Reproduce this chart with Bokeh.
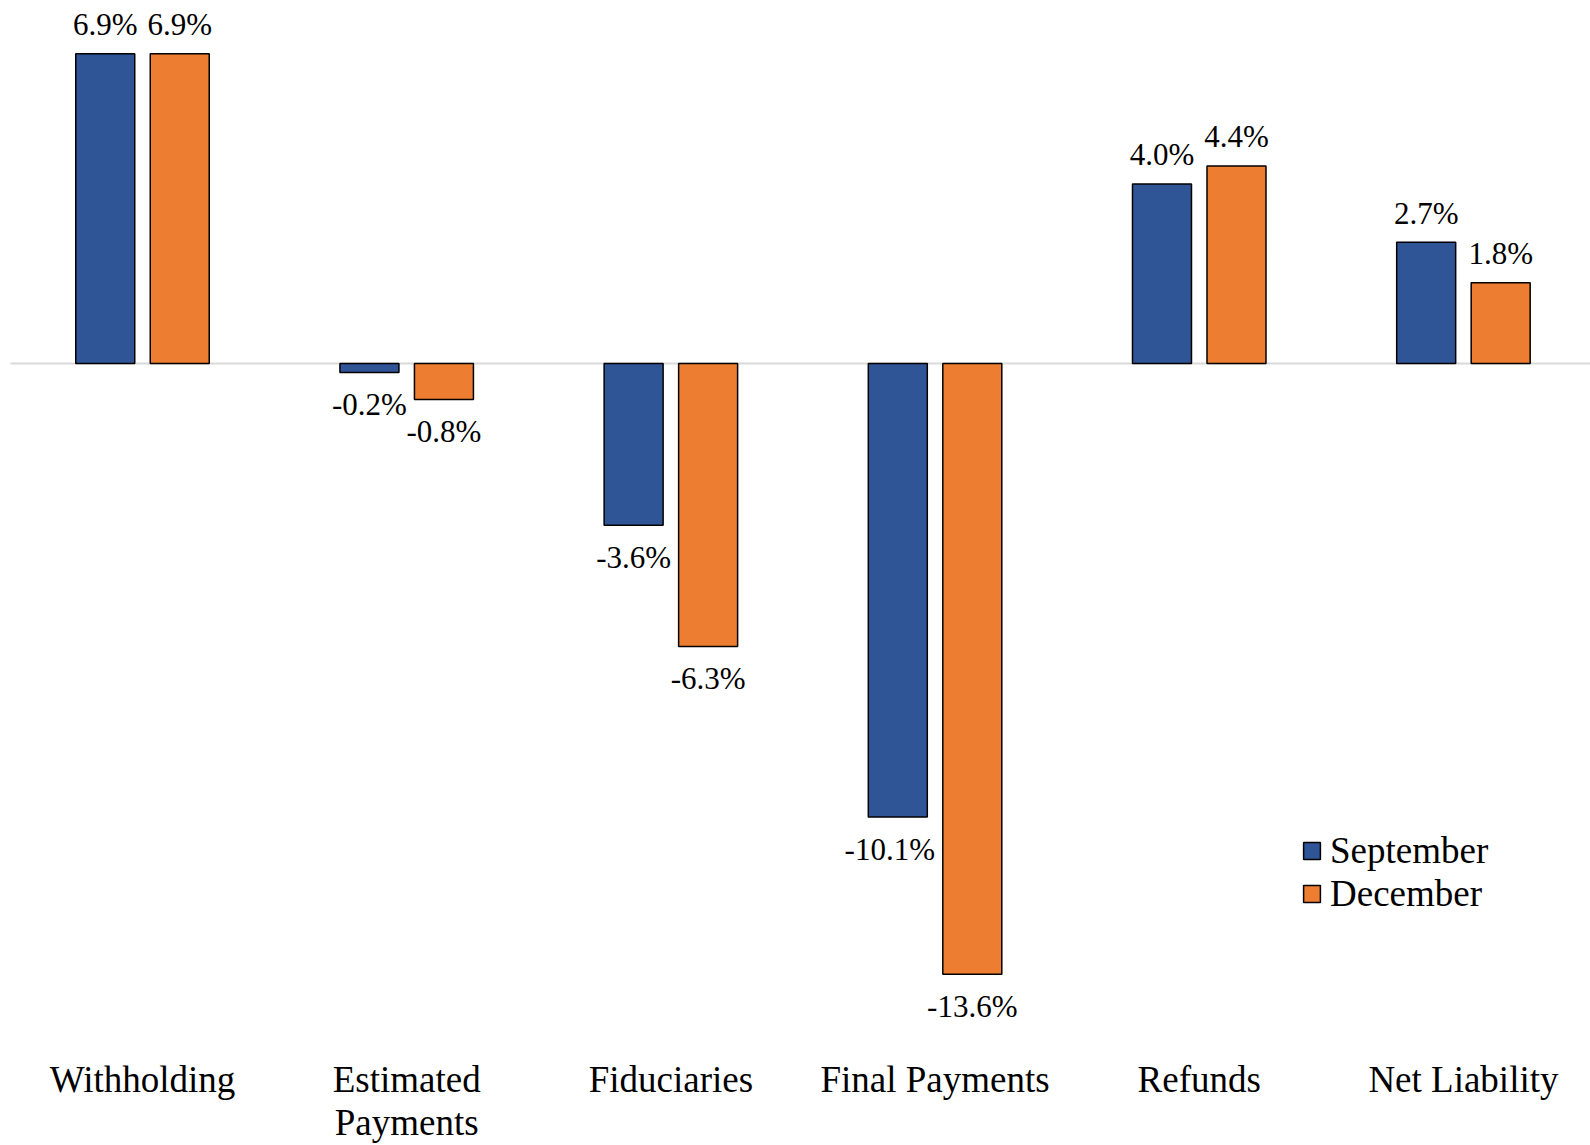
from bokeh.plotting import figure
from bokeh.models import Range1d, Legend, LegendItem, ColumnDataSource
from bokeh.core.properties import value
from bokeh.embed import file_html
from bokeh.resources import INLINE

# Year-over-year change by component, two forecast vintages
categories = ["Withholding", "Estimated\nPayments", "Fiduciaries",
              "Final Payments", "Refunds", "Net Liability"]
september = [6.9, -0.2, -3.6, -10.1, 4.0, 2.7]
december = [6.9, -0.8, -6.3, -13.6, 4.4, 1.8]
series_names = ["September", "December"]

BLUE = "#2F5597"
ORANGE = "#ED7D31"
FONT = "Liberation Serif"

W, H = 1590, 1145
p = figure(width=W, height=H, output_backend="svg", toolbar_location=None,
           x_range=Range1d(-0.5375, 5.481), y_range=Range1d(-17.416, 8.085),
           x_axis_type=None, y_axis_type=None, min_border=0)
p.grid.visible = False
p.outline_line_color = None
p.background_fill_color = "white"

n = len(categories)
idx = list(range(n))
dx = 0.141
bw = 0.2233

# zero baseline
p.segment(x0=[-0.5], y0=[0], x1=[5.481], y1=[0], line_color="#D9D9D9", line_width=2)

src_s = ColumnDataSource(dict(x=[i - dx for i in idx], top=september))
src_d = ColumnDataSource(dict(x=[i + dx for i in idx], top=december))
r1 = p.vbar(x="x", top="top", bottom=0, width=bw, source=src_s,
            fill_color=BLUE, line_color="black", line_width=1.5)
r2 = p.vbar(x="x", top="top", bottom=0, width=bw, source=src_d,
            fill_color=ORANGE, line_color="black", line_width=1.5)

# value labels outside the bar ends
lx, ly, lt, lyo, lxo = [], [], [], [], []
for src in (src_s, src_d):
    for x, v in zip(src.data["x"], src.data["top"]):
        lx.append(x)
        ly.append(v)
        lt.append(f"{v:.1f}%")
        lyo.append(-29 if v >= 0 else 32)
        lxo.append(0)
# keep the widest negative label clear of its neighbour bar
lxo[3] = -8
p.text(x=lx, y=ly, text=lt, x_offset=lxo, y_offset=lyo,
       text_align="center", text_baseline="alphabetic",
       text_font=value(FONT), text_font_size="31px", text_color="black")

# category labels
p.text(x=idx, y=[-15.50] * n, text=categories, text_align="center",
       text_baseline="top", text_line_height=1.04,
       text_font=value(FONT), text_font_size="37px", text_color="black")

legend = Legend(items=[LegendItem(label=series_names[0], renderers=[r1]),
                       LegendItem(label=series_names[1], renderers=[r2])],
                location=(1301, 230), orientation="vertical",
                glyph_width=21, glyph_height=21, label_standoff=8,
                spacing=0, padding=0, margin=0,
                border_line_color=None, background_fill_alpha=0,
                label_text_font=FONT, label_text_font_size="37px",
                label_text_color="black")
p.add_layout(legend)

open("out.html", "w").write(file_html(p, INLINE))
